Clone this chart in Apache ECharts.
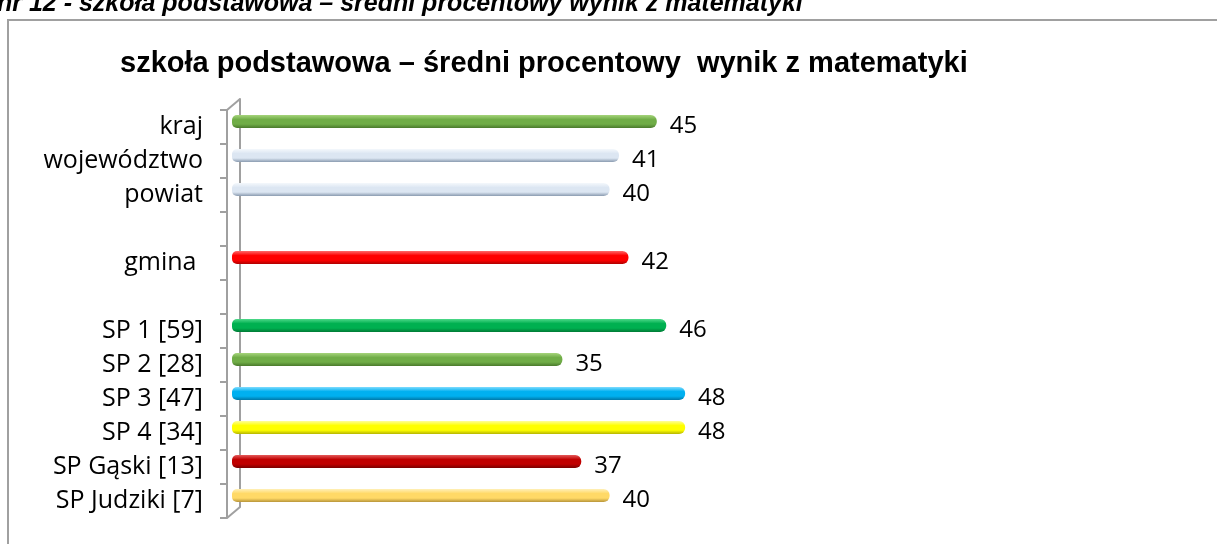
<!DOCTYPE html>
<html>
<head>
<meta charset="utf-8">
<script src="https://cdn.jsdelivr.net/npm/echarts@6/dist/echarts.min.js"></script>
<style>
  html, body { margin: 0; padding: 0; background: #fff; }
  #chart { width: 1217px; height: 544px; }
</style>
</head>
<body>
<div id="chart"></div>
<script>
// kategorie (puste pozycje = odstępy między grupami)
var categories = ['kraj', 'województwo', 'powiat', '', 'gmina ', '', 'SP 1 [59]', 'SP 2 [28]', 'SP 3 [47]', 'SP 4 [34]', 'SP Gąski [13]', 'SP Judziki [7]'];
var values = [45, 41, 40, '-', 42, '-', 46, 35, 48, 48, 37, 40];
// kolory słupków: [jasny, bazowy, ciemny]
var barColors = [
  ['#a6d47c', '#70ad47', '#4a7a2c'],
  ['#f4f8fc', '#dce6f2', '#8a9bb0'],
  ['#f4f8fc', '#dce6f2', '#8a9bb0'],
  null,
  ['#ff6a6a', '#ff0000', '#b00000'],
  null,
  ['#4fd98a', '#00b050', '#007a35'],
  ['#a6d47c', '#70ad47', '#4a7a2c'],
  ['#7fdcff', '#00b0f0', '#0078a8'],
  ['#ffff9a', '#ffff00', '#b5b500'],
  ['#e45a5a', '#c00000', '#7a0000'],
  ['#fff0b8', '#ffd966', '#b8953a']
];
var caption = 'nr 12 - szkoła podstawowa – średni procentowy wynik z matematyki';
var chartTitle = 'szkoła podstawowa – średni procentowy  wynik z matematyki';

var myChart = echarts.init(document.getElementById('chart'));

var barData = values.map(function (v, i) {
  var c = barColors[i];
  if (!c) return v;
  return {
    value: v,
    itemStyle: {
      color: new echarts.graphic.LinearGradient(0, 0, 0, 1, [
        { offset: 0, color: c[0] },
        { offset: 0.35, color: c[1] },
        { offset: 0.7, color: c[1] },
        { offset: 1, color: c[2] }
      ])
    }
  };
});

var labelFont = '"Open Sans", sans-serif';

var option = {
  animation: false,
  backgroundColor: '#fff',
  title: {
    text: chartTitle,
    left: 115,
    top: 44,
    textStyle: {
      fontFamily: '"Liberation Sans", Arial, sans-serif',
      fontWeight: 'bold',
      fontSize: 29,
      color: '#000'
    }
  },
  graphic: [
    {
      type: 'text',
      style: {
        text: caption,
        x: -3,
        y: 17,
        textVerticalAlign: 'bottom',
        font: 'italic bold 25px "Liberation Sans", Arial, sans-serif',
        fill: '#000'
      }
    },
    {
      type: 'rect',
      shape: { x: 8, y: 20, width: 1300, height: 700 },
      style: { fill: 'none', stroke: '#a0a0a0', lineWidth: 2 }
    },
    // ukośne krawędzie ściany osi (efekt 3D)
    {
      type: 'line',
      shape: { x1: 227, y1: 110, x2: 240, y2: 99 },
      style: { stroke: '#a0a0a0', lineWidth: 2 }
    },
    {
      type: 'line',
      shape: { x1: 227, y1: 518, x2: 240, y2: 507 },
      style: { stroke: '#a0a0a0', lineWidth: 2 }
    }
  ],
  grid: [
    { left: 227, top: 110, height: 408, width: 944 },   // przednia ściana osi
    { left: 232, top: 104.5, height: 408, width: 944 }, // słupki
    { left: 240, top: 99, height: 408, width: 944 }     // tylna ściana osi
  ],
  xAxis: [
    { gridIndex: 0, type: 'value', min: 0, max: 100, show: false },
    { gridIndex: 1, type: 'value', min: 0, max: 100, show: false },
    { gridIndex: 2, type: 'value', min: 0, max: 100, show: false }
  ],
  yAxis: [
    {
      gridIndex: 0,
      type: 'category',
      inverse: true,
      data: categories,
      axisLine: { show: true, lineStyle: { color: '#a0a0a0', width: 2 } },
      axisTick: { show: true, length: 7, lineStyle: { color: '#a0a0a0', width: 2 } },
      axisLabel: { margin: 24, fontFamily: labelFont, fontSize: 25, color: '#000' },
      splitLine: { show: false }
    },
    {
      gridIndex: 1,
      type: 'category',
      inverse: true,
      data: categories,
      show: false
    },
    {
      gridIndex: 2,
      type: 'category',
      inverse: true,
      data: categories,
      axisLine: { show: true, lineStyle: { color: '#a0a0a0', width: 2 } },
      axisTick: { show: false },
      axisLabel: { show: false },
      splitLine: { show: false }
    }
  ],
  series: [
    {
      type: 'bar',
      xAxisIndex: 1,
      yAxisIndex: 1,
      data: barData,
      barWidth: 13,
      itemStyle: { borderRadius: [5, 6, 6, 5] },
      label: {
        show: true,
        position: 'right',
        distance: 13,
        offset: [0, 5],
        fontFamily: labelFont,
        fontSize: 24,
        color: '#000'
      }
    }
  ]
};

myChart.setOption(option);
</script>
</body>
</html>
